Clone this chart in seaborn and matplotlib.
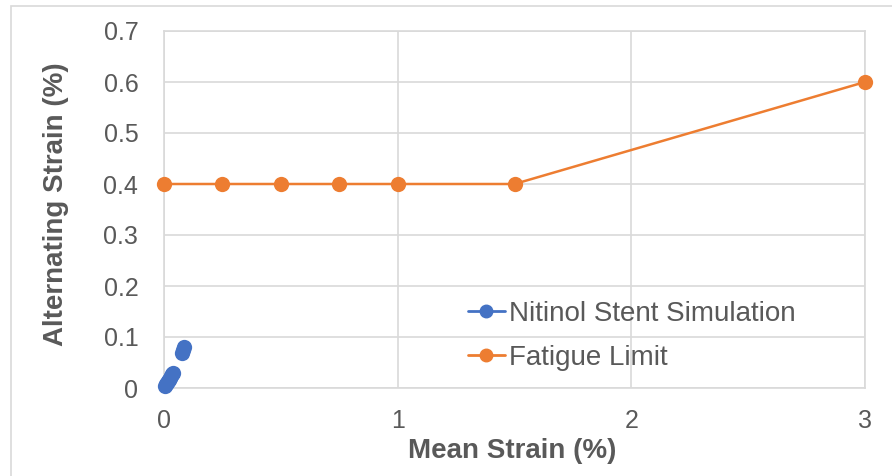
import matplotlib
matplotlib.use("Agg")
import matplotlib.pyplot as plt
import seaborn as sns
import pandas as pd
from matplotlib.patches import Rectangle
from matplotlib.lines import Line2D

# Nitinol stent simulation points (mean strain %, alternating strain %)
sim_mean = [0.004, 0.008, 0.012, 0.016, 0.02, 0.025, 0.03, 0.035, 0.04, 0.075, 0.08, 0.085]
sim_alt = [0.004, 0.007, 0.01, 0.013, 0.016, 0.02, 0.024, 0.027, 0.029, 0.068, 0.075, 0.08]

# Fatigue limit curve
fat_mean = [0, 0.25, 0.5, 0.75, 1.0, 1.5, 3.0]
fat_alt = [0.4, 0.4, 0.4, 0.4, 0.4, 0.4, 0.6]

x_ticks = [0, 1, 2, 3]
y_ticks = [0, 0.1, 0.2, 0.3, 0.4, 0.5, 0.6, 0.7]
y_tick_labels = ["0", "0.1", "0.2", "0.3", "0.4", "0.5", "0.6", "0.7"]

sim = pd.DataFrame({"mean": sim_mean, "alt": sim_alt})
fat = pd.DataFrame({"mean": fat_mean, "alt": fat_alt})

sns.set_style("white")
plt.rcParams["font.family"] = ["Liberation Sans", "DejaVu Sans"]

blue = "#4472C4"
orange = "#ED7D31"
txt = "#595959"
grid = "#D9D9D9"

fig = plt.figure(figsize=(8.92, 4.76), dpi=100)
ax = fig.add_axes([164 / 892, 1 - 388 / 476, (865 - 164) / 892, (388 - 31) / 476])

# outer chart frame
fig.patches.append(Rectangle((11 / 892, -0.01), 0.99, 1 - 6 / 476 + 0.01,
                             transform=fig.transFigure, fill=False,
                             edgecolor=grid, linewidth=1.2))

sns.lineplot(data=sim, x="mean", y="alt", ax=ax, color=blue, marker="o",
             markersize=11, markeredgewidth=0, linewidth=0, sort=False,
             legend=False, clip_on=False, zorder=3)
sns.lineplot(data=fat, x="mean", y="alt", ax=ax, color=orange, marker="o",
             markersize=11, markeredgewidth=0, linewidth=1.8, sort=False,
             legend=False, clip_on=False, zorder=3)

ax.set_xlim(0, 3)
ax.set_ylim(0, 0.7)
ax.set_xticks(x_ticks)
ax.set_xticklabels([str(t) for t in x_ticks])
ax.set_yticks(y_ticks)
ax.set_yticklabels(y_tick_labels)
ax.grid(True, color=grid, linewidth=1.2)
ax.set_axisbelow(True)
for s in ax.spines.values():
    s.set_color(grid)
    s.set_linewidth(1.2)
ax.tick_params(axis="both", length=0, labelsize=18, labelcolor=txt)
ax.tick_params(axis="x", pad=15)
ax.tick_params(axis="y", pad=18.5)

ax.set_xlabel("Mean Strain (%)", fontsize=20, fontweight="bold", color=txt)
ax.set_ylabel("Alternating Strain (%)", fontsize=20, fontweight="bold", color=txt)
ax.xaxis.set_label_coords(0.496, -0.14)
ax.yaxis.set_label_coords(-0.1355, 0.515)

# legend line-with-marker handles
handles = [
    Line2D([0], [0], color=blue, marker="o", markersize=9, linewidth=2),
    Line2D([0], [0], color=orange, marker="o", markersize=9, linewidth=2),
]
ax.legend(handles, ["Nitinol Stent Simulation", "Fatigue Limit"],
          loc="upper left", bbox_to_anchor=(468 / 892, 1 - 301 / 476),
          bbox_transform=fig.transFigure, frameon=False, fontsize=20,
          labelcolor=txt, handlelength=1.33, handletextpad=0.15,
          labelspacing=0.65, borderaxespad=0, borderpad=0)

fig.savefig("out.png", dpi=100)
